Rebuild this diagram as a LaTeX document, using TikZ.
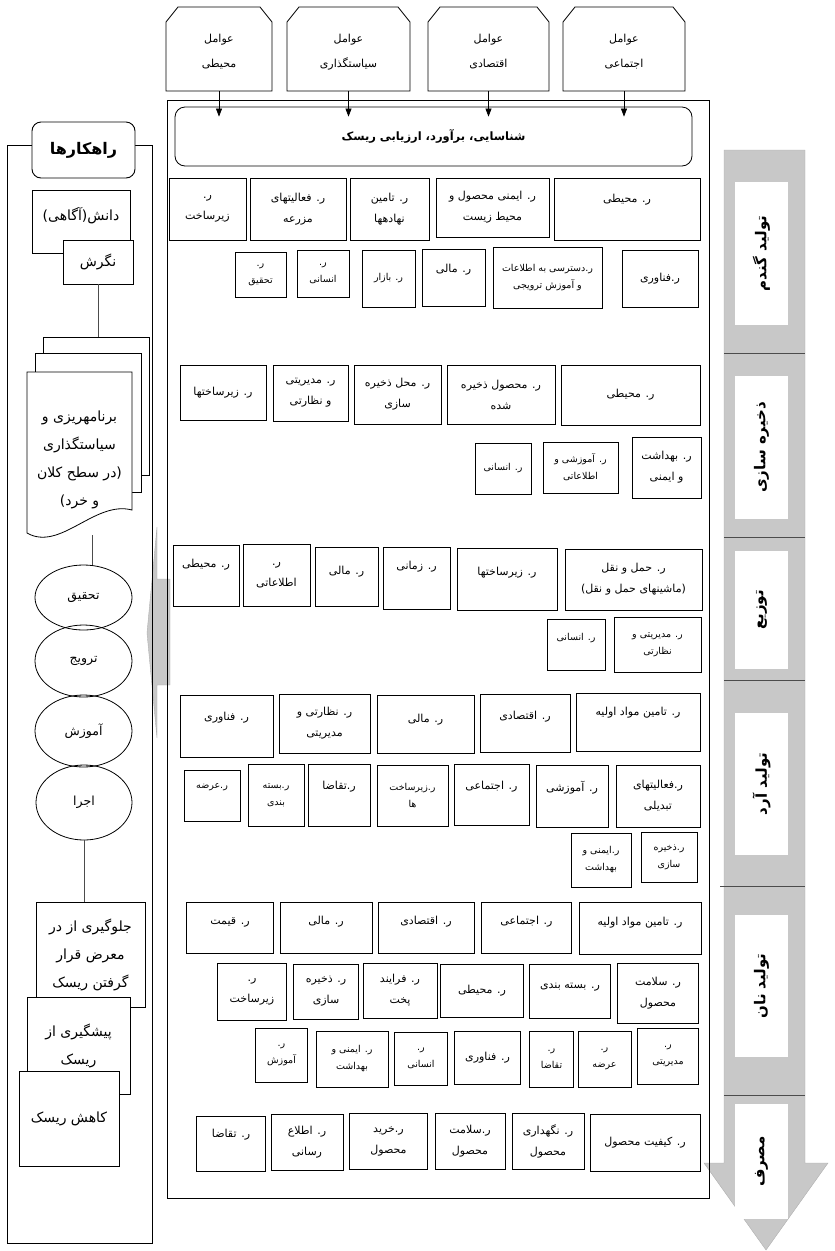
\documentclass[tikz,border=0pt]{standalone}
\usepackage{fontspec}
\newfontfamily\fa[Script=Arabic]{DejaVu Sans}
\TeXXeTstate=1
\usetikzlibrary{arrows.meta,shapes.geometric}
\definecolor{bandgray}{RGB}{200,200,200}
\definecolor{bandedge}{RGB}{175,175,175}
\newcommand{\rl}[1]{\beginR #1\endR}

\tikzset{
  riskbox/.style={draw, fill=white, line width=0.6pt, inner sep=1pt, align=center, font=\fa\fontsize{11}{21}\selectfont},
  smallbox/.style={riskbox, font=\fa\fontsize{9.5}{17}\selectfont},
  boxsize/.style 2 args={minimum width=#1pt, minimum height=#2pt},
  lift/.style={text depth=#1pt},
  factor/.style={inner sep=0pt, align=center, font=\fa\fontsize{11}{25}\selectfont},
  stage/.style={fill=white, inner sep=0pt, font=\fa\bfseries\fontsize{15}{17}\selectfont},
  planbox/.style={draw, fill=white, line width=0.8pt, inner sep=1pt, align=center, font=\fa\fontsize{14}{28}\selectfont},
  option/.style={draw, ellipse, line width=0.8pt, inner sep=0pt, font=\fa\fontsize{12.5}{14}\selectfont},
  flowarrow/.style={-{Triangle[length=8pt,width=6pt]}, line width=0.7pt},
  link/.style={draw=black!70, line width=0.6pt},
  sepline/.style={draw=black!70, line width=0.8pt},
}

\begin{document}
\begin{tikzpicture}[x=1pt, y=-1pt]
    \useasboundingbox (0,0) rectangle (835,1251);

    % stages band on the right
    \draw[fill=bandgray, draw=bandedge] (724,150) -- (805,150) -- (805,1163) -- (828,1163) -- (766,1250) -- (704,1163) -- (724,1163) -- cycle;
    \draw[sepline] (724,353) -- (805,353);
    \draw[sepline] (724,537) -- (805,537);
    \draw[sepline] (724,680) -- (805,680);
    \draw[sepline] (720,886) -- (805,886);
    \draw[sepline] (724,1095) -- (805,1095);
    \node[stage, rotate=90, boxsize={143}{53}] (s1) at (761.5,253.5) {\rl{تولید گندم}};
    \node[stage, rotate=90, boxsize={143}{53}] (s2) at (761.5,447.5) {\rl{ذخیره سازی}};
    \node[stage, rotate=90, boxsize={118}{53}] (s3) at (761.5,610) {\rl{توزیع}};
    \node[stage, rotate=90, boxsize={142}{53}] (s4) at (761.5,784) {\rl{تولید آرد}};
    \node[stage, rotate=90, boxsize={142}{53}] (s5) at (761.5,986) {\rl{تولید نان}};
    \node[stage, rotate=90, boxsize={115}{53}] (s6) at (761.5,1161.5) {\rl{مصرف}};

    % arrow towards the strategies
    \draw[fill=bandgray, draw=bandedge] (170,579) -- (157,579) -- (157,527) -- (147,633) -- (157,738) -- (157,685) -- (170,685) -- cycle;

    % factors
    \draw[line width=0.8pt] (166,91) -- (166,22) -- (178,7) -- (260,7) -- (272,22) -- (272,91) -- cycle;
    \draw[line width=0.8pt] (287,91) -- (287,22) -- (299,7) -- (398,7) -- (410,22) -- (410,91) -- cycle;
    \draw[line width=0.8pt] (428,91) -- (428,22) -- (440,7) -- (537,7) -- (549,22) -- (549,91) -- cycle;
    \draw[line width=0.8pt] (563,91) -- (563,22) -- (575,7) -- (673,7) -- (685,22) -- (685,91) -- cycle;
    \node[factor, boxsize={106}{78}] (f1) at (219,52) {\rl{عوامل}\\\rl{محیطی}};
    \node[factor, boxsize={123}{78}] (f2) at (348.5,52) {\rl{عوامل}\\\rl{سیاستگذاری}};
    \node[factor, boxsize={121}{78}] (f3) at (488.5,52) {\rl{عوامل}\\\rl{اقتصادی}};
    \node[factor, boxsize={122}{78}] (f4) at (624,52) {\rl{عوامل}\\\rl{اجتماعی}};

    % main frame
    \draw[line width=0.9pt] (167,100) rectangle (709,1198);
    \node[draw, fill=white, line width=0.8pt, rounded corners=10pt, boxsize={517}{59}, font=\fa\bfseries\fontsize{11.5}{14}\selectfont] (risk) at (433.5,136.5) {\rl{شناسایی، برآورد، ارزیابی ریسک}};
    \draw[flowarrow, shorten >=-10pt] (f1.south) -- (f1.south |- risk.north);
    \draw[flowarrow, shorten >=-10pt] (f2.south) -- (f2.south |- risk.north);
    \draw[flowarrow, shorten >=-10pt] (f3.south) -- (f3.south |- risk.north);
    \draw[flowarrow, shorten >=-10pt] (f4.south) -- (f4.south |- risk.north);

    % wheat production
    \node[riskbox, boxsize={77}{62}] (a1) at (207.5,209) {\rl{ر.}\\\rl{زیرساخت}};
    \node[riskbox, boxsize={96}{62}] (a2) at (298,209) {\rl{ر. فعالیتهای}\\\rl{مزرعه}};
    \node[riskbox, boxsize={79}{62}] (a3) at (389.5,209) {\rl{ر. تامین}\\\rl{نهادهها}};
    \node[riskbox, boxsize={113}{59}] (a4) at (492.5,207.5) {\rl{ر. ایمنی محصول و}\\\rl{محیط زیست}};
    \node[riskbox, boxsize={146}{62}, lift=21] (a5) at (627,209) {\rl{ر. محیطی}};
    \node[smallbox, boxsize={51}{45}] (a6) at (260.5,274.5) {\rl{ر.}\\\rl{تحقیق}};
    \node[smallbox, boxsize={52}{47}] (a7) at (323,273.5) {\rl{ر.}\\\rl{انسانی}};
    \node[smallbox, boxsize={53}{57}] (a8) at (388.5,278.5) {\rl{ر. بازار}};
    \node[riskbox, boxsize={63}{57}, lift=18] (a9) at (453.5,277.5) {\rl{ر. مالی}};
    \node[smallbox, boxsize={109}{61}] (a10) at (547.5,277.5) {\rl{ر.دسترسی به اطلاعات}\\\rl{و آموزش ترویجی}};
    \node[riskbox, boxsize={76}{57}] (a11) at (660,278.5) {\rl{ر.فناوری}};

    % storage
    \node[riskbox, boxsize={86}{55}] (b1) at (223,392.5) {\rl{ر. زیرساختها}};
    \node[riskbox, boxsize={75}{56}] (b2) at (310.5,393) {\rl{ر. مدیریتی}\\\rl{و نظارتی}};
    \node[riskbox, boxsize={87}{59}] (b3) at (397.5,394.5) {\rl{ر. محل ذخیره}\\\rl{سازی}};
    \node[riskbox, boxsize={108}{59}] (b4) at (501,394.5) {\rl{ر. محصول ذخیره}\\\rl{شده}};
    \node[riskbox, boxsize={139}{60}] (b5) at (630.5,395) {\rl{ر. محیطی}};
    \node[smallbox, boxsize={56}{51}] (b6) at (503,468.5) {\rl{ر. انسانی}};
    \node[smallbox, boxsize={75}{51}] (b7) at (580.5,467.5) {\rl{ر. آموزشی و}\\\rl{اطلاعاتی}};
    \node[riskbox, boxsize={69}{61}] (b8) at (666.5,467.5) {\rl{ر. بهداشت}\\\rl{و ایمنی}};

    % distribution
    \node[riskbox, boxsize={66}{61}, lift=24] (c1) at (206,575.5) {\rl{ر. محیطی}};
    \node[riskbox, boxsize={67}{62}] (c2) at (276.5,575) {\rl{ر.}\\\rl{اطلاعاتی}};
    \node[riskbox, boxsize={63}{59}, lift=12] (c3) at (346.5,576.5) {\rl{ر. مالی}};
    \node[riskbox, boxsize={67}{62}, lift=25] (c4) at (416.5,578) {\rl{ر. زمانی}};
    \node[riskbox, boxsize={100}{62}, lift=15] (c5) at (507,579) {\rl{ر. زیرساختها}};
    \node[riskbox, boxsize={137}{61}] (c6) at (633.5,579.5) {\rl{ر. حمل و نقل}\\\rl{(ماشینهای حمل و نقل)}};
    \node[smallbox, boxsize={58}{51}, lift=16] (c7) at (576,644.5) {\rl{ر. انسانی}};
    \node[smallbox, boxsize={87}{55}] (c8) at (657.5,644.5) {\rl{ر. مدیریتی و}\\\rl{نظارتی}};

    % flour production
    \node[riskbox, boxsize={93}{62}, lift=19] (d1) at (226.5,726) {\rl{ر. فناوری}};
    \node[riskbox, boxsize={91}{59}] (d2) at (324.5,723.5) {\rl{ر. نظارتی و}\\\rl{مدیریتی}};
    \node[riskbox, boxsize={97}{58}, lift=11] (d3) at (425.5,724) {\rl{ر. مالی}};
    \node[riskbox, boxsize={90}{58}, lift=15] (d4) at (525,723) {\rl{ر. اقتصادی}};
    \node[riskbox, boxsize={124}{58}, lift=21] (d5) at (638,722) {\rl{ر. تامین مواد اولیه}};
    \node[smallbox, boxsize={56}{51}, lift=18] (d6) at (212,795.5) {\rl{ر.عرضه}};
    \node[smallbox, boxsize={56}{62}] (d7) at (276,795) {\rl{ر.بسته}\\\rl{بندی}};
    \node[riskbox, boxsize={62}{62}, lift=19] (d8) at (339,795) {\rl{ر.تقاضا}};
    \node[smallbox, boxsize={71}{61}] (d9) at (412.5,795.5) {\rl{ر.زیرساخت}\\\rl{ها}};
    \node[riskbox, boxsize={75}{61}, lift=18] (d10) at (491.5,794.5) {\rl{ر. اجتماعی}};
    \node[riskbox, boxsize={72}{62}, lift=19] (d11) at (572,796) {\rl{ر. آموزشی}};
    \node[riskbox, boxsize={84}{62}] (d12) at (658,796) {\rl{ر.فعالیتهای}\\\rl{تبدیلی}};
    \node[smallbox, boxsize={60}{54}] (d13) at (601,860) {\rl{ر.ایمنی و}\\\rl{بهداشت}};
    \node[smallbox, boxsize={56}{50}] (d14) at (669,857) {\rl{ر.ذخیره}\\\rl{سازی}};

    % bread production
    \node[riskbox, boxsize={87}{51}, lift=14] (e1) at (230,927.5) {\rl{ر. قیمت}};
    \node[riskbox, boxsize={92}{51}, lift=14] (e2) at (326,927.5) {\rl{ر. مالی}};
    \node[riskbox, boxsize={96}{51}, lift=14] (e3) at (426,927.5) {\rl{ر. اقتصادی}};
    \node[riskbox, boxsize={90}{51}, lift=14] (e4) at (526.5,927.5) {\rl{ر. اجتماعی}};
    \node[riskbox, boxsize={122}{52}, lift=14] (e5) at (640,928) {\rl{ر. تامین مواد اولیه}};
    \node[riskbox, boxsize={69}{57}] (e6) at (252,991.5) {\rl{ر.}\\\rl{زیرساخت}};
    \node[riskbox, boxsize={65}{55}] (e7) at (326,991.5) {\rl{ر. ذخیره}\\\rl{سازی}};
    \node[riskbox, boxsize={74}{55}] (e8) at (400,990.5) {\rl{ر. فرایند}\\\rl{پخت}};
    \node[riskbox, boxsize={83}{53}] (e9) at (482,990.5) {\rl{ر. محیطی}};
    \node[riskbox, boxsize={81}{54}, lift=11] (e10) at (570,991) {\rl{ر. بسته بندی}};
    \node[riskbox, boxsize={81}{60}] (e11) at (658,993) {\rl{ر. سلامت}\\\rl{محصول}};
    \node[smallbox, boxsize={52}{54}] (e12) at (281.5,1055) {\rl{ر.}\\\rl{آموزش}};
    \node[smallbox, boxsize={72}{56}] (e13) at (352,1059) {\rl{ر. ایمنی و}\\\rl{بهداشت}};
    \node[smallbox, boxsize={53}{53}] (e14) at (421,1058.5) {\rl{ر.}\\\rl{انسانی}};
    \node[riskbox, boxsize={66}{53}] (e15) at (487.5,1057.5) {\rl{ر. فناوری}};
    \node[smallbox, boxsize={44}{56}] (e16) at (551.5,1059) {\rl{ر.}\\\rl{تقاضا}};
    \node[smallbox, boxsize={53}{56}] (e17) at (604.5,1059) {\rl{ر.}\\\rl{عرضه}};
    \node[smallbox, boxsize={61}{56}] (e18) at (668,1056) {\rl{ر.}\\\rl{مدیریتی}};

    % consumption
    \node[riskbox, boxsize={69}{55}, lift=20] (g1) at (231,1143.5) {\rl{ر. تقاضا}};
    \node[riskbox, boxsize={72}{56}] (g2) at (307,1142) {\rl{ر. اطلاع}\\\rl{رسانی}};
    \node[riskbox, boxsize={78}{56}] (g3) at (388.5,1141) {\rl{ر.خرید}\\\rl{محصول}};
    \node[riskbox, boxsize={70}{56}] (g4) at (470,1141) {\rl{ر.سلامت}\\\rl{محصول}};
    \node[riskbox, boxsize={72}{56}] (g5) at (548,1141) {\rl{ر. نگهداری}\\\rl{محصول}};
    \node[riskbox, boxsize={110}{57}] (g6) at (645,1142.5) {\rl{ر. کیفیت محصول}};

    % strategies
    \draw[line width=0.9pt] (7,145) rectangle (152,1243);
    \node[draw, fill=white, line width=0.9pt, rounded corners=9pt, boxsize={103}{56}, font=\fa\bfseries\fontsize{16}{18}\selectfont] (plan) at (83.5,150) {\rl{راهکارها}};
    \node[planbox, boxsize={98}{63}, lift=16] (know) at (81,221.5) {\rl{دانش(آگاهی)}};
    \node[planbox, boxsize={70}{44}] (att) at (98,262) {\rl{نگرش}};
    \draw[line width=0.8pt] (43,353) -- (43,337) -- (149,337) -- (149,475) -- (141,475);
    \draw[line width=0.8pt] (35,372) -- (35,353) -- (141,353) -- (141,492) -- (132,492);
    \draw[line width=0.8pt, fill=white] (27,372) -- (132,372) -- (132,510) .. controls (95,500) and (60,552) .. (27,533) -- cycle;
    \node[inner sep=0pt, align=center, font=\fa\fontsize{14}{28}\selectfont] (doc) at (79.5,460) {\rl{برنامهریزی و}\\\rl{سیاستگذاری}\\\rl{(در سطح کلان}\\\rl{و خرد)}};
    \coordinate (doctop) at (att.south |- 0,337);
    \coordinate (docbot) at (92,535);
    \node[option, minimum width=97pt, minimum height=65pt] (res) at (83.5,597.5) {\rl{تحقیق}};
    \node[option, minimum width=97pt, minimum height=72pt] (ext) at (83.5,661) {\rl{ترویج}};
    \node[option, minimum width=97pt, minimum height=72pt] (edu) at (83.5,731) {\rl{آموزش}};
    \node[option, minimum width=96pt, minimum height=75pt] (exe) at (84,802.5) {\rl{اجرا}};
    \node[planbox, boxsize={109}{105}] (avoid) at (90.5,954.5) {\rl{جلوگیری از در}\\\rl{معرض قرار}\\\rl{گرفتن ریسک}};
    \node[planbox, boxsize={103}{97}] (prev) at (78.5,1045.5) {\rl{پیشگیری از}\\\rl{ریسک}};
    \node[planbox, boxsize={100}{95}] (reduce) at (69,1118.5) {\rl{کاهش ریسک}};
    \draw[link] (att.south) -- (doctop);
    \draw[link] (docbot) -- (docbot |- res.north);
    \draw[link] (exe.south) -- (exe.south |- avoid.north);
\end{tikzpicture}
\end{document}
